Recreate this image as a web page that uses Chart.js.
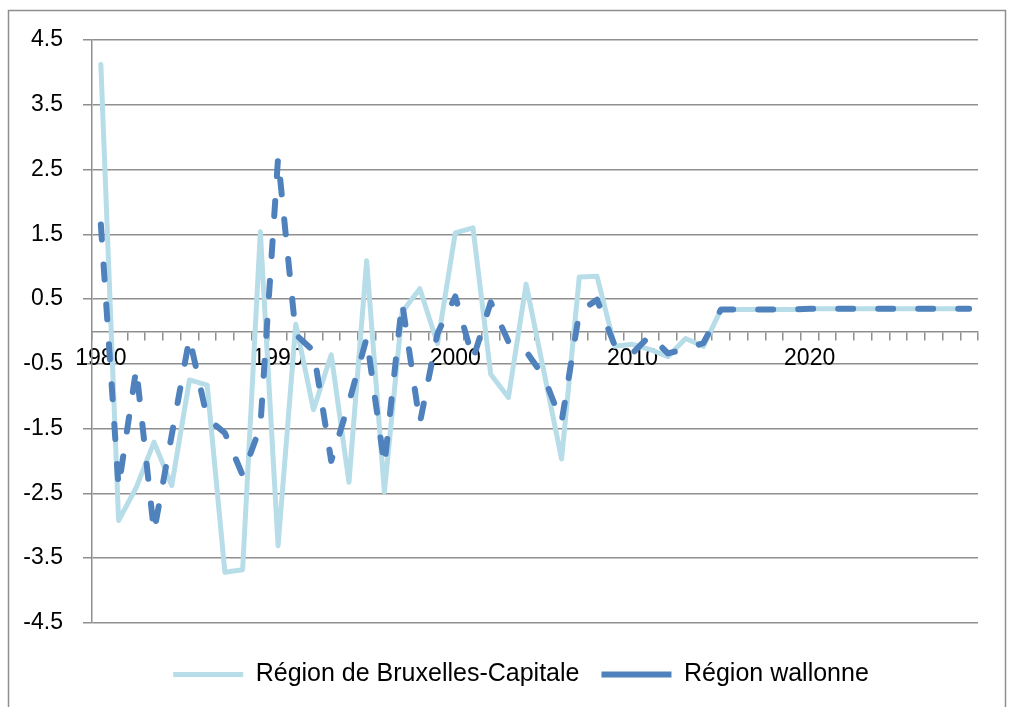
<!DOCTYPE html>
<html>
<head>
<meta charset="utf-8">
<script src="https://cdn.jsdelivr.net/npm/chart.js@4/dist/chart.umd.min.js"></script>
<style>
  html, body { margin: 0; padding: 0; background: #fff; }
  #wrap { width: 1011px; height: 707px; }
</style>
</head>
<body>
<div id="wrap"><canvas id="lineChart" width="1011" height="707"></canvas></div>
<script>
const years = [
    '1980', '1981', '1982', '1983', '1984', '1985', '1986', '1987', '1988', '1989',
    '1990', '1991', '1992', '1993', '1994', '1995', '1996', '1997', '1998', '1999',
    '2000', '2001', '2002', '2003', '2004', '2005', '2006', '2007', '2008', '2009',
    '2010', '2011', '2012', '2013', '2014', '2015', '2016', '2017', '2018', '2019',
    '2020', '2021', '2022', '2023', '2024', '2025', '2026', '2027', '2028', '2029'
];

const bruxelles = [
    4.12, -2.92, -2.41, -1.71, -2.38, -0.75, -0.83, -3.72, -3.68, 1.54,
    -3.31, 0.11, -1.21, -0.36, -2.33, 1.09, -2.48, 0.30, 0.66, -0.19,
    1.52, 1.60, -0.66, -1.02, 0.73, -0.62, -1.97, 0.84, 0.85, -0.23,
    -0.20, -0.28, -0.39, -0.11, -0.23, 0.34, 0.34, 0.34, 0.34, 0.34,
    0.35, 0.35, 0.35, 0.35, 0.35, 0.35, 0.35, 0.35, 0.35, 0.35
];

const wallonne = [
    1.65, -2.41, -0.57, -3.10, -1.60, -0.10, -1.34, -1.57, -2.22, -1.47,
    2.68, -0.05, -0.30, -2.00, -1.10, -0.10, -2.07, 0.45, -1.42, -0.03,
    0.54, -0.43, 0.45, -0.16, -0.31, -0.70, -1.40, 0.30, 0.49, -0.22,
    -0.34, -0.06, -0.34, -0.27, -0.18, 0.34, 0.34, 0.34, 0.34, 0.34,
    0.35, 0.35, 0.35, 0.35, 0.35, 0.35, 0.35, 0.35, 0.35, 0.35
];

const shownYears = ['1980', '1990', '2000', '2010', '2020'];
const yMin = -4.5;
const yMax = 4.5;
const yStep = 1;

const gridGrey = '#8f8f8f';

// thin frame around the whole chart, like the exported office chart
const framePlugin = {
    id: 'frame',
    afterLayout(chart) {
        // legend sits a bit right of the canvas centre in the original
        if (chart.legend) {
            chart.legend.left += 28;
            chart.legend.right += 28;
        }
    },
    afterDraw(chart) {
        const c = chart.ctx;
        c.save();
        c.strokeStyle = '#8f8f8f';
        c.lineWidth = 1.5;
        c.strokeRect(8.5, 10.5, 997, 720);
        c.restore();
    }
};

const ctx = document.getElementById('lineChart').getContext('2d');

const lineChart = new Chart(ctx, {
    type: 'line',
    data: {
        labels: years,
        datasets: [
            {
                label: 'Région de Bruxelles-Capitale',
                data: bruxelles,
                borderColor: '#b7dde8',
                backgroundColor: '#b7dde8',
                borderWidth: 5,
                borderCapStyle: 'round',
                borderJoinStyle: 'round',
                pointRadius: 0,
                tension: 0,
                order: 1
            },
            {
                label: 'Région wallonne',
                data: wallonne,
                borderColor: '#4f81bd',
                backgroundColor: '#4f81bd',
                borderWidth: 6,
                borderDash: [15, 25],
                borderCapStyle: 'round',
                borderJoinStyle: 'round',
                pointRadius: 0,
                tension: 0,
                order: 0
            }
        ]
    },
    options: {
        responsive: false,
        animation: false,
        layout: {
            padding: { left: 8, right: 33, top: 40, bottom: 10 }
        },
        plugins: {
            tooltip: { enabled: false },
            legend: {
                position: 'bottom',
                // empty title only used as spacer above the legend row
                title: { display: true, text: ' ', font: { size: 1 }, padding: 8 },
                labels: {
                    usePointStyle: true,
                    pointStyle: 'line',
                    pointStyleWidth: 70,
                    padding: 22,
                    color: '#000',
                    font: { family: 'Liberation Sans', size: 25 },
                    sort: (a, b) => a.datasetIndex - b.datasetIndex
                }
            }
        },
        scales: {
            x: {
                type: 'category',
                offset: true,
                position: { y: 0 },
                grid: {
                    drawOnChartArea: false,
                    drawTicks: true,
                    tickLength: 8,
                    offset: true,
                    color: gridGrey,
                    lineWidth: 1.5
                },
                border: { display: true, color: gridGrey, width: 1.5 },
                ticks: {
                    autoSkip: false,
                    maxRotation: 0,
                    padding: 5,
                    color: '#000',
                    font: { family: 'Liberation Sans', size: 23 },
                    callback: function (value) {
                        const lab = this.getLabelForValue(value);
                        return shownYears.includes(lab) ? lab : '';
                    }
                }
            },
            y: {
                min: yMin,
                max: yMax,
                afterFit: (scale) => { scale.width = 84; },
                grid: {
                    color: gridGrey,
                    lineWidth: 1.5,
                    tickLength: 9
                },
                border: { display: true, color: gridGrey, width: 1.5 },
                ticks: {
                    stepSize: yStep,
                    padding: 20,
                    color: '#000',
                    font: { family: 'Liberation Sans', size: 23 },
                    callback: (v) => v.toFixed(1)
                }
            }
        }
    },
    plugins: [framePlugin]
});
</script>
</body>
</html>
